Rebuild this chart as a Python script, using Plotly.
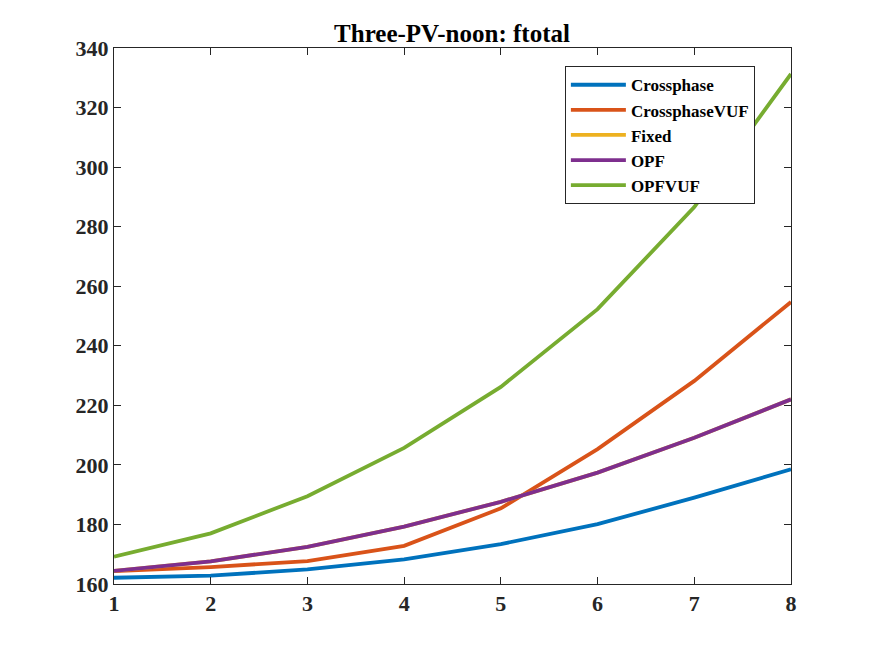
import plotly.graph_objs as go

# step index on x axis
steps = [1, 2, 3, 4, 5, 6, 7, 8]

# ftotal per method
crossphase = [162.1, 162.8, 164.9, 168.3, 173.4, 180.1, 189.0, 198.5]
crossphase_vuf = [164.3, 165.7, 167.7, 172.8, 185.4, 205.3, 228.2, 254.7]
fixed = [164.4, 167.6, 172.5, 179.3, 187.6, 197.4, 209.1, 222.0]
opf = [164.4, 167.6, 172.5, 179.3, 187.6, 197.4, 209.1, 222.0]
opf_vuf = [169.2, 177.0, 189.5, 205.7, 226.2, 252.3, 286.6, 331.3]

y_ticks = [160, 180, 200, 220, 240, 260, 280, 300, 320, 340]

series = [
    ('Crossphase', crossphase, '#0072BD'),
    ('CrossphaseVUF', crossphase_vuf, '#D95319'),
    ('Fixed', fixed, '#EDB120'),
    ('OPF', opf, '#7E2F8E'),
    ('OPFVUF', opf_vuf, '#77AC30'),
]

font_family = 'Liberation Serif'

data = []
for name, vals, color in series:
    data.append(go.Scatter(
        x=steps,
        y=vals,
        mode='lines',
        line=dict(color=color, width=3.8),
        name=name
    ))

axis_style = dict(
    showline=True,
    linecolor='#262626',
    linewidth=1,
    mirror='ticks',
    ticks='inside',
    ticklen=7,
    tickcolor='#262626',
    showgrid=False,
    zeroline=False,
    tickfont=dict(family=font_family, size=22, color='#262626', weight='bold'),
)

# page body adds an 8px offset, margins are set so the axes land where they should
layout = go.Layout(
    title=dict(
        text='Three-PV-noon: ftotal',
        x=444 / 875,
        xanchor='center',
        y=1 - 25 / 656,
        yanchor='middle',
        font=dict(family=font_family, size=25, color='#000000', weight='bold'),
    ),
    xaxis=dict(range=[1, 8], tickvals=steps, **axis_style),
    yaxis=dict(range=[160, 340], tickvals=y_ticks, **axis_style),
    legend=dict(
        x=0.666,
        y=0.966,
        xanchor='left',
        yanchor='top',
        bgcolor='white',
        bordercolor='#262626',
        borderwidth=1,
        font=dict(family=font_family, size=17, color='#000000', weight='bold'),
        tracegroupgap=0,
        itemwidth=55,
    ),
    plot_bgcolor='white',
    paper_bgcolor='white',
    margin=dict(l=106, r=92, t=40, b=80),
    width=875,
    height=656,
    showlegend=True,
)

fig = go.Figure(data=data, layout=layout)
fig.write_html("out.html")
